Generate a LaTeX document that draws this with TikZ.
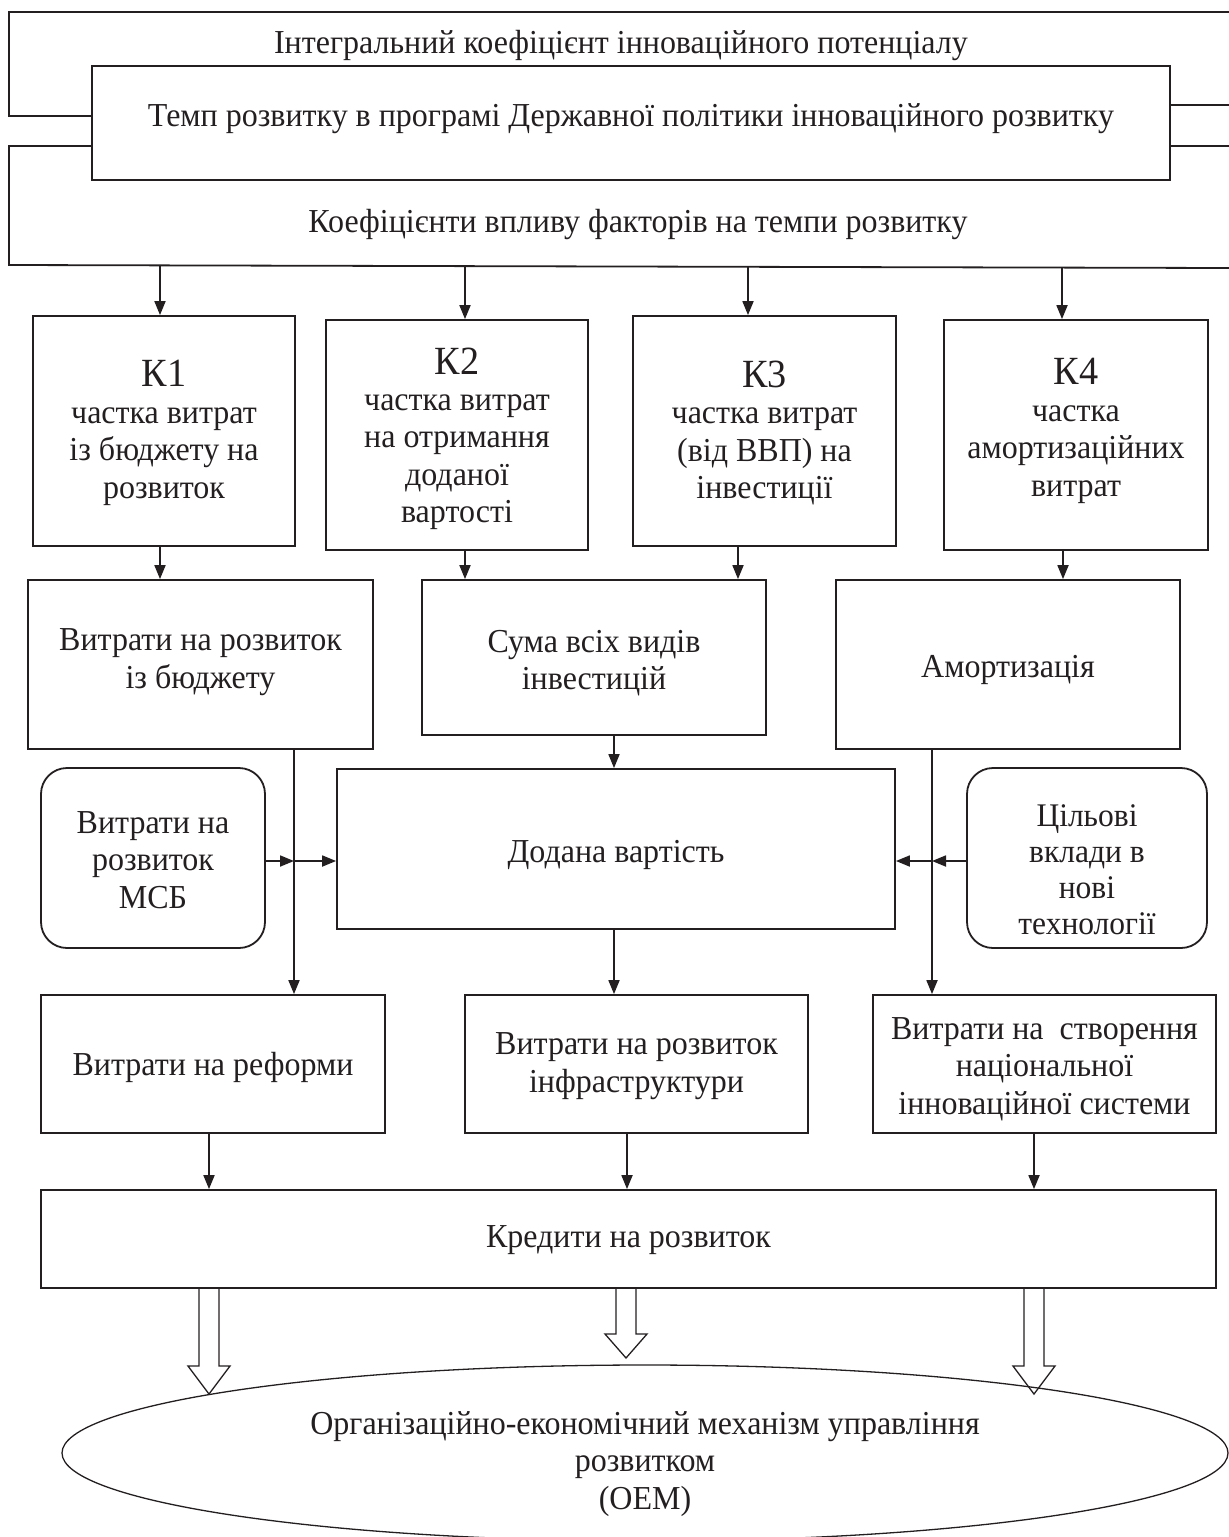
\documentclass[tikz,border=0pt]{standalone}
\usepackage{fontspec}
\setmainfont{Liberation Serif}[FakeStretch=0.955]
\usetikzlibrary{arrows.meta,calc,shapes.geometric}
\definecolor{ink}{RGB}{35,31,32}
\begin{document}
\begin{tikzpicture}[x=1pt,y=-1pt,
  font=\fontsize{33.5}{37.5}\selectfont,
  ln/.style={draw=ink,line width=1.8pt},
  box/.style={ln,rectangle,align=center,inner sep=0pt,text=ink},
  rbox/.style={box,rounded corners=26pt},
  txt/.style={align=center,inner sep=0pt,text=ink},
  arr/.style={ln,-{Triangle[length=14pt,width=11pt]}},
  blk/.style={draw=ink,line width=1.3pt,line join=miter}]
\useasboundingbox (0,0) rectangle (1229,1537);
\clip (0,0) rectangle (1229,1537);

% ---------- top frame ----------
\node[box,minimum width=1078,minimum height=114] (temp) at (631,123) {};
\node[txt] (temp-t) at (631,119)
  {Темп розвитку в програмі Державної політики інноваційного розвитку};
\node[txt] (integ) at (621,45) {Інтегральний коефіцієнт інноваційного потенціалу};
\node[txt] (koef) at (638,224) {Коефіцієнти впливу факторів на темпи розвитку};

\coordinate (fTR) at (1229,12);
\coordinate (fBL) at (9,265);
\coordinate (fBR) at (1229,268);
\draw[ln] (fTR) -- (9,12) -- (9,116) -- (temp.west |- 0,116);
\draw[ln] (temp.west |- 0,146) -- (9,146) -- (fBL) -- (fBR);
\draw[ln] (temp.east |- 0,105) -- (1229,105);
\draw[ln] (temp.east |- 0,146) -- (1229,146);

\coordinate (a1) at (160,265.4);
\coordinate (a2) at (465,266.1);
\coordinate (a3) at (748,266.8);
\coordinate (a4) at (1062,267.6);

% ---------- K boxes ----------
\node[box,minimum width=262,minimum height=230] (k1) at (164,431) {};
\node[txt] (k1-t) at (164,433)
  {{\fontsize{40}{40}\selectfont К1}\\[-1pt]частка витрат\\із бюджету на\\розвиток};
\node[box,minimum width=262,minimum height=230] (k2) at (457,435) {};
\node[txt] (k2-t) at (457,439)
  {{\fontsize{40}{40}\selectfont К2}\\[-2pt]частка витрат\\на отримання\\доданої\\вартості};
\node[box,minimum width=263,minimum height=230] (k3) at (764.5,431) {};
\node[txt] (k3-t) at (764.5,433)
  {{\fontsize{40}{40}\selectfont К3}\\[-1pt]частка витрат\\(від ВВП) на\\інвестиції};
\node[box,minimum width=264,minimum height=230] (k4) at (1076,435) {};
\node[txt] (k4-t) at (1076,431)
  {{\fontsize{40}{40}\selectfont К4}\\[-1pt]частка\\амортизаційних\\витрат};

\draw[arr] (a1) -- (a1 |- k1.north);
\draw[arr] (a2) -- (a2 |- k2.north);
\draw[arr] (a3) -- (a3 |- k3.north);
\draw[arr] (a4) -- (a4 |- k4.north);

% ---------- row 2 ----------
\node[box,minimum width=345,minimum height=169] (vit) at (200.5,664.5) {};
\node[txt] (vit-t) at (200.5,662) {Витрати на розвиток\\із бюджету};
\node[box,minimum width=344,minimum height=155] (suma) at (594,657.5) {};
\node[txt] (suma-t) at (594,663) {Сума всіх видів\\інвестицій};
\node[box,minimum width=344,minimum height=169] (amort) at (1008,664.5) {};
\node[txt] (amort-t) at (1008,670) {Амортизація};

\draw[arr] (k1.south -| 160,0) -- (vit.north -| 160,0);
\draw[arr] (k2.south -| 465,0) -- (suma.north -| 465,0);
\draw[arr] (k3.south -| 738,0) -- (suma.north -| 738,0);
\draw[arr] (k4.south -| 1063,0) -- (amort.north -| 1063,0);

% ---------- middle ----------
\node[box,minimum width=558,minimum height=160] (dod) at (616,849) {};
\node[txt] (dod-t) at (616,855) {Додана вартість};
\node[rbox,minimum width=224,minimum height=180] (msb) at (153,858) {};
\node[txt] (msb-t) at (153,860) {Витрати на\\розвиток\\МСБ};
\node[rbox,minimum width=240,minimum height=180] (cil) at (1087,858) {};
\node[txt,font=\fontsize{33}{36}\selectfont] (cil-t) at (1087,870)
  {Цільові\\вклади в\\нові\\технології};

\draw[arr] (suma.south -| 614,0) -- (dod.north -| 614,0);

\coordinate (jl) at (294,861);
\coordinate (jr) at (932,861);
\draw[arr] (msb.east |- jl) -- (jl);
\draw[arr] (jl) -- (dod.west |- jl);
\draw[arr] (cil.west |- jr) -- (jr);
\draw[arr] (jr) -- (dod.east |- jr);

% ---------- row 3 ----------
\node[box,minimum width=344,minimum height=138] (ref) at (213,1064) {};
\node[txt] (ref-t) at (213,1067) {Витрати на реформи};
\node[box,minimum width=343,minimum height=138] (infra) at (636.5,1064) {};
\node[txt] (infra-t) at (636.5,1066) {Витрати на розвиток\\інфраструктури};
\node[box,minimum width=343,minimum height=138] (nis) at (1044.5,1064) {};
\node[txt] (nis-t) at (1044.5,1069)
  {Витрати на\ \ створення\\національної\\інноваційної системи};

\draw[arr] (vit.south -| jl) -- (ref.north -| jl);
\draw[arr] (amort.south -| jr) -- (nis.north -| jr);
\draw[arr] (dod.south -| 614,0) -- (infra.north -| 614,0);

% ---------- credits ----------
\node[box,minimum width=1175,minimum height=98] (kred) at (628.5,1239) {};
\node[txt] (kred-t) at (628.5,1240) {Кредити на розвиток};
\draw[arr] (ref.south -| 209,0) -- (kred.north -| 209,0);
\draw[arr] (infra.south -| 627,0) -- (kred.north -| 627,0);
\draw[arr] (nis.south -| 1034,0) -- (kred.north -| 1034,0);

% ---------- OEM ellipse ----------
\node[ellipse,draw=ink,line width=1.3pt,minimum width=1166,minimum height=176,
      inner sep=0pt] (oem) at (645,1453) {};
\node[txt] (oem-t) at (645,1464)
  {Організаційно-економічний механізм управління\\розвитком\\(ОЕМ)};

% hollow block arrows
\coordinate (b1) at (209,1288);
\coordinate (b2) at (626,1288);
\coordinate (b3) at (1034,1288);
\draw[blk] (b1) ++(-10,0) -- ++(0,78) -- ++(-11,0) -- ++(21,28) -- ++(21,-28) -- ++(-11,0) -- ++(0,-78);
\draw[blk] (b2) ++(-10,0) -- ++(0,46) -- ++(-11,0) -- ++(21,24) -- ++(21,-24) -- ++(-11,0) -- ++(0,-46);
\draw[blk] (b3) ++(-10,0) -- ++(0,78) -- ++(-11,0) -- ++(21,28) -- ++(21,-28) -- ++(-11,0) -- ++(0,-78);
\end{tikzpicture}
\end{document}
